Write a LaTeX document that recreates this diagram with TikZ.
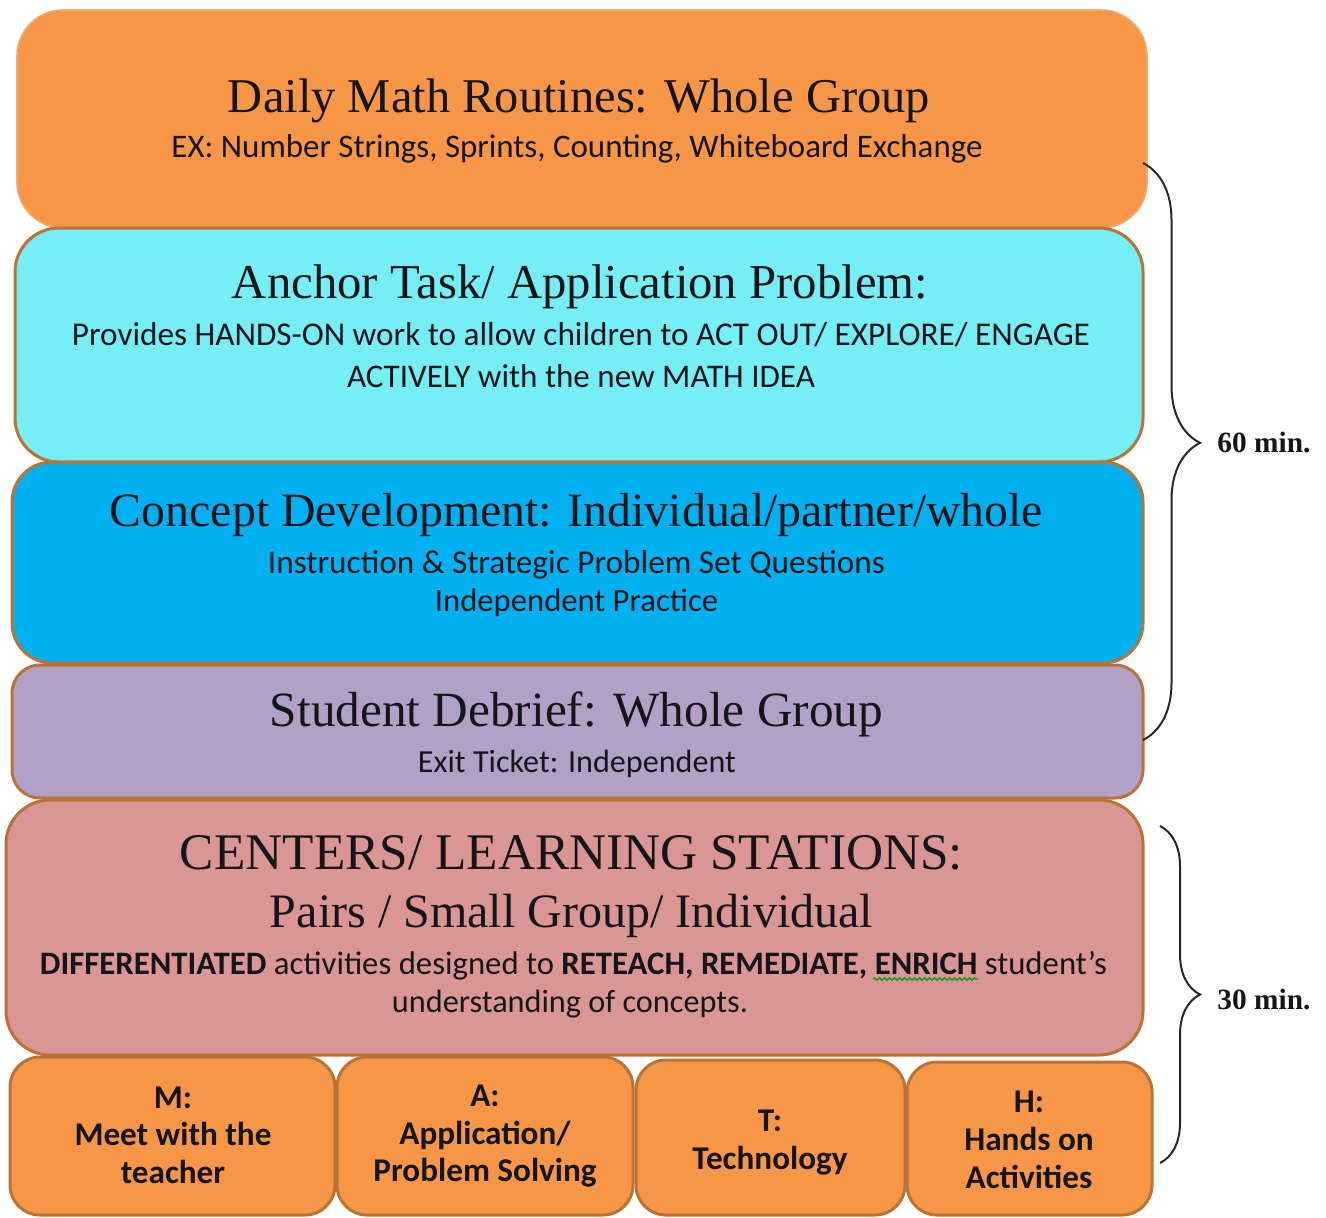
\documentclass[tikz,border=0pt]{standalone}
\usepackage{fontspec}
\usepackage{graphicx}
\setmainfont{Liberation Serif}
\newfontfamily\calib{Carlito}
\usetikzlibrary{decorations.pathreplacing,decorations.pathmorphing}
\definecolor{cOrange}{RGB}{247,150,70}
\definecolor{cOrangeEdge}{RGB}{240,170,110}
\definecolor{cCyan}{RGB}{117,238,245}
\definecolor{cBlue}{RGB}{0,176,240}
\definecolor{cPurple}{RGB}{178,161,199}
\definecolor{cPink}{RGB}{217,150,148}
\definecolor{cEdge}{RGB}{185,115,55}
\definecolor{cText}{RGB}{20,20,25}
\definecolor{cBrace}{RGB}{40,40,40}
\newcommand\fitw[2]{\resizebox{#1}{!}{#2}}
\tikzset{
  box/.style={rectangle, draw=cEdge, line width=1.5pt, inner sep=0pt},
  ttl/.style={anchor=base, inner sep=0pt, text=cText, font=\rmfamily},
  sub/.style={anchor=base, inner sep=0pt, text=cText, font=\calib},
  bot/.style={anchor=base, inner sep=0pt, text=cText, font=\calib\bfseries\fontsize{16.6}{18}\selectfont},
  bracestyle/.style={draw=cBrace, line width=1pt, decorate},
  mins/.style={anchor=west, inner sep=0pt, text=cText, font=\rmfamily\bfseries}
}
\begin{document}
\begin{tikzpicture}[x=0.5pt,y=-0.5pt]
\useasboundingbox (0,0) rectangle (1326,1217);
% main boxes
\node[box, fill=cOrange, draw=cOrangeEdge, line width=0.8pt, rounded corners=23pt, minimum width=565pt, minimum height=109pt] (b1) at (582,119) {};
\node[box, fill=cCyan, rounded corners=22pt, minimum width=564pt, minimum height=117pt] (b2) at (579,345) {};
\node[box, fill=cBlue, rounded corners=20pt, minimum width=565.5pt, minimum height=100.5pt] (b3) at (577.5,562.5) {};
\node[box, fill=cPurple, rounded corners=14pt, minimum width=565.5pt, minimum height=66.5pt] (b4) at (577.5,731.5) {};
\node[box, fill=cPink, rounded corners=22pt, minimum width=568.5pt, minimum height=127.5pt] (b5) at (574.5,927.5) {};
% bottom boxes
\node[box, fill=cOrange, rounded corners=15pt, minimum width=162.5pt, minimum height=79pt] (m) at (172.5,1136) {};
\node[box, fill=cOrange, rounded corners=15pt, minimum width=148pt, minimum height=79pt] (a) at (485,1136) {};
\node[box, fill=cOrange, rounded corners=15pt, minimum width=134.5pt, minimum height=77.5pt] (t) at (770.5,1137.5) {};
\node[box, fill=cOrange, rounded corners=15pt, minimum width=122.5pt, minimum height=76.5pt] (h) at (1029.5,1138.5) {};
% texts box 1
\node[ttl] (t1) at (579,112) {\fitw{351pt}{Daily Math Routines: Whole Group}};
\node[sub] (s1) at (577,157) {\fitw{405.5pt}{EX: Number Strings, Sprints, Counting, Whiteboard Exchange}};
% box 2
\node[ttl] (t2) at (580,298) {\fitw{348pt}{Anchor Task/ Application Problem:}};
\node[sub] (s2a) at (581,345) {\fitw{509pt}{Provides HANDS-ON work to allow children to ACT OUT/ EXPLORE/ ENGAGE}};
\node[sub] (s2b) at (581,387) {\fitw{234pt}{ACTIVELY with the new MATH IDEA}};
% box 3
\node[ttl] (t3) at (576.5,526) {\fitw{466.5pt}{Concept Development: Individual/partner/whole}};
\node[sub] (s3a) at (576.5,573) {\fitw{308.5pt}{Instruction \& Strategic Problem Set Questions}};
\node[sub] (s3b) at (576.5,611) {\fitw{141.5pt}{Independent Practice}};
% box 4
\node[ttl] (t4) at (576.5,726) {\fitw{306.5pt}{Student Debrief: Whole Group}};
\node[sub] (s4) at (577,772) {\fitw{159pt}{Exit Ticket: Independent}};
% box 5
\node[ttl] (t5a) at (571.5,869) {\fitw{391.5pt}{CENTERS/ LEARNING STATIONS:}};
\node[ttl] (t5b) at (571.5,927) {\fitw{301.5pt}{Pairs / Small Group/ Individual}};
\node[sub] (s5a) at (573.5,974) {\fitw{533.5pt}{\textbf{DIFFERENTIATED} activities designed to \textbf{RETEACH, REMEDIATE, ENRICH} student’s}};
\node[sub] (s5b) at (570,1012) {\fitw{178pt}{understanding of concepts.}};
\draw[green!60!black, line width=0.6pt, decorate, decoration={snake, amplitude=0.6pt, segment length=2.5pt}] (873,979) -- (978,979);
% bottom texts
\node[bot] (m1) at (173,1108) {M:};
\node[bot] (m2) at (173,1145) {Meet with the};
\node[bot] (m3) at (173,1183) {teacher};
\node[bot] (a1) at (485,1106) {A:};
\node[bot] (a2) at (485,1144) {Application/};
\node[bot] (a3) at (485,1181) {Problem Solving};
\node[bot] (tt1) at (770,1131) {T:};
\node[bot] (tt2) at (770,1169) {Technology};
\node[bot] (h1) at (1029,1112) {H:};
\node[bot] (h2) at (1029,1150) {Hands on};
\node[bot] (h3) at (1029,1188) {Activities};
% braces
\coordinate (br1a) at (1143,163);
\coordinate (br1b) at (1143,740);
\coordinate (br2a) at (1160,826);
\coordinate (br2b) at (1160,1163);
\draw[bracestyle, decoration={brace, amplitude=28.5pt, aspect=0.485}] (br1a) -- (br1b);
\draw[bracestyle, decoration={brace, amplitude=20pt, aspect=0.5}] (br2a) -- (br2b);
\node[mins] (l60) at (1217,443) {\fitw{46.5pt}{60 min.}};
\node[mins] (l30) at (1217,999) {\fitw{46.5pt}{30 min.}};
\end{tikzpicture}
\end{document}
